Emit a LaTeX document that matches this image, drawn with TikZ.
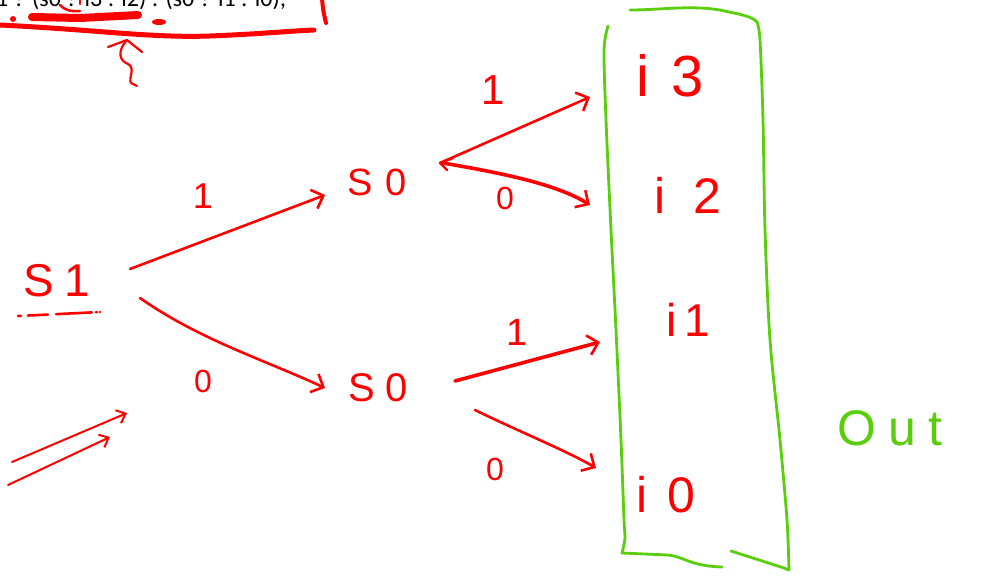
\documentclass[tikz,border=0pt]{standalone}
\usepackage{fontspec}
\setmainfont{Liberation Sans}
\newfontfamily\codefont{Carlito}
\newfontfamily\widefont[LetterSpace=25]{Liberation Sans}
\usetikzlibrary{arrows.meta}
\definecolor{inkred}{RGB}{255,0,0}
\definecolor{inkgreen}{RGB}{88,206,12}
\begin{document}
\begin{tikzpicture}[x=1pt,y=-1pt,
  ink/.style={draw=inkred, line width=2.6pt, line cap=round, line join=round},
  greenink/.style={draw=inkgreen, line width=2.8pt, line cap=round, line join=round},
  arr/.style={ink, -{Straight Barb[length=10pt,width=20pt,line width=2.6pt]}},
  boldarr/.style={arr, line width=3.6pt},
  lbl/.style={text=inkred, font=\fontsize{42}{42}\selectfont, inner sep=0pt},
  ilbl/.style={text=inkred, font=\fontsize{50}{50}\selectfont, inner sep=0pt},
  elbl/.style={text=inkred, font=\fontsize{32}{32}\selectfont, inner sep=0pt},
]
\useasboundingbox (0,0) rectangle (982,579);
\clip (0,0) rectangle (982,579);

% code line (cut off at the top, as in the reference)
\node[anchor=base west, inner sep=0pt, font=\codefont\fontsize{24}{24}\selectfont] (code) at (-4,6) {1 ? (s0 ? i3 : i2) : (s0 ? i1 : i0);};

% red bracket and marks around the code line
\draw[ink, line width=4pt] (322,-2) .. controls (323,10) .. (326,23);
\draw[ink, line width=5pt] (0,25) .. controls (100,30) and (150,38) .. (210,36) .. controls (260,34) and (290,31) .. (314,30);
\draw[ink, line width=8pt] (32,17) -- (80,18) -- (138,15);
\fill[inkred] (13,19) circle (3);
\fill[inkred] (159,22) ellipse (7 and 3);
\draw[ink, line width=2.5pt] (60,5) .. controls (64,10) and (72,12) .. (80,11);
\draw[ink, line width=2.5pt] (80,0) -- (80,4);
\node[inner sep=0pt] (mark) at (127,40) {};
\draw[ink, line width=2.2pt] (108,47) -- (mark.center) -- (142,52);
\draw[ink, line width=2.2pt] (mark.center) .. controls (118,50) and (118,60) .. (128,64) .. controls (136,68) and (128,78) .. (131,83) -- (137,86);

% state nodes
\node[lbl, font=\fontsize{46}{46}\selectfont] (s1) at (57,281) {S\hspace{10pt}1};
\node[lbl, font=\fontsize{38}{38}\selectfont] (s0a) at (377,182) {S\hspace{12pt}0};
\node[lbl, font=\fontsize{40}{40}\selectfont] (s0b) at (378,388) {S\hspace{10pt}0};
\draw[ink, dash pattern=on 3pt off 7pt on 20pt off 8pt on 36pt off 4pt on 1pt] (18,316) -- (100,312);

% output nodes
\node[ilbl, font=\fontsize{58}{58}\selectfont] (i3) at (670,76) {i\hspace{22pt}3};
\node[ilbl] (i2) at (688,195) {i\hspace{28pt}2};
\node[ilbl, font=\fontsize{46}{46}\selectfont] (i1) at (688,320) {i\hspace{8pt}1};
\node[ilbl] (i0) at (666,495) {i\hspace{20pt}0};

% connectors
\draw[arr] ([shift={(73,-12)}]s1.center) -- ([shift={(-52,13)}]s0a.center);
\draw[arr] ([shift={(83,17)}]s1.center) .. controls (200,340) and (265,360) .. ([shift={(-53,0)}]s0b.center);
\draw[arr] ([shift={(63,-19)}]s0a.center) -- ([shift={(-80,21)}]i3.center);
\draw[ink, line width=2.4pt] ([shift={(76,-24)}]s0a.center) -- ([shift={(63,-19)}]s0a.center) -- ([shift={(70,-12)}]s0a.center);
\draw[boldarr] ([shift={(66,-19)}]s0a.center) .. controls (495,172) and (555,183) .. ([shift={(-98,10)}]i2.center);
\draw[boldarr] ([shift={(77,-7)}]s0b.center) -- ([shift={(-88,22)}]i1.center);
\draw[arr] ([shift={(97,22)}]s0b.center) .. controls (520,432) and (565,450) .. ([shift={(-70,-27)}]i0.center);

% edge labels
\node[elbl, font=\fontsize{36}{36}\selectfont] (l1a) at (203,196) {1};
\node[elbl] (l0a) at (203,381) {0};
\node[elbl, font=\fontsize{42}{42}\selectfont] (l1b) at (493,90) {1};
\node[elbl] (l0b) at (505,198) {0};
\node[elbl, font=\fontsize{38}{38}\selectfont] (l1c) at (517,332) {1};
\node[elbl] (l0c) at (495,469) {0};

% loose arrows at lower left
\coordinate (p1) at (12,462);
\coordinate (q1) at (127,413);
\coordinate (p2) at (8,485);
\coordinate (q2) at (110,437);
\draw[arr, line width=2pt, -{Straight Barb[length=8pt,width=14pt,line width=2pt]}] (p1) -- (q1);
\draw[arr, line width=2pt, -{Straight Barb[length=8pt,width=14pt,line width=2pt]}] (p2) -- (q2);

% green output box
\draw[greenink] plot[smooth, tension=0.5] coordinates {(608,26) (604,50) (606,120) (611,230) (616,330) (621,440) (624,520) (625,538) (622,553)}
  -- (668,555) .. controls (685,557) and (690,566) .. (722,567);
\draw[greenink] (731,551) -- (784,568) -- (789,570)
  plot[smooth, tension=0.5] coordinates {(789,570) (787,520) (780,440) (770,340) (765,230) (763,120) (760,40) (757,22)}
  .. controls (752,16) and (738,14) .. (720,10) .. controls (690,5) and (660,10) .. (630,10);
\node[text=inkgreen, font=\widefont\fontsize{50}{50}\selectfont, inner sep=0pt] (out) at (890,428) {Out};
\end{tikzpicture}
\end{document}
